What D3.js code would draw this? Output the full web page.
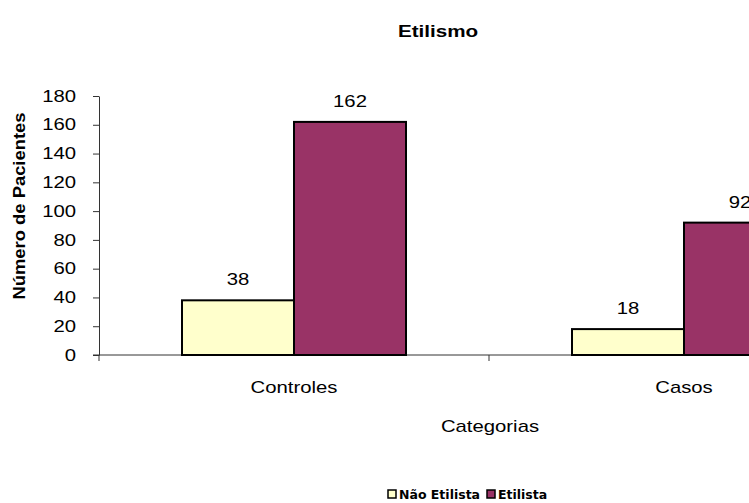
<!DOCTYPE html>
<html>
<head>
<meta charset="utf-8">
<script src="https://cdn.jsdelivr.net/npm/d3@7"></script>
<style>
body { margin:0; background:#fff; overflow:hidden; }
svg { display:block; font-family:"Liberation Sans", Arial, sans-serif; }
</style>
</head>
<body>
<svg id="graph"></svg>
<script>
var categories = ["Controles","Casos"]
var seriesNames = ["Não Etilista","Etilista"]
var naoEtilista = [38,18]
var etilista = [162,92]
var yTicks = [0,20,40,60,80,100,120,140,160,180]

var colors = {"Não Etilista":"#FFFFCC","Etilista":"#993366"}
var stretch = 1.27

var screen = {width:749,height:503}
var margins = {left:99,top:96}
var graph = {width:780,height:259}

var svg = d3.select("#graph")
    .attr("width",screen.width)
    .attr("height",screen.height)

var rows = categories.map(function(c,i)
{
    return {category:c,values:[
        {name:seriesNames[0],value:naoEtilista[i]},
        {name:seriesNames[1],value:etilista[i]}
    ]}
})

var xScale = d3.scaleBand()
    .domain(categories)
    .range([margins.left,margins.left+graph.width])

var inner = d3.scaleBand()
    .domain(seriesNames)
    .range([83,307])

var yScale = d3.scaleLinear()
    .domain([0,180])
    .range([margins.top+graph.height,margins.top])

var baseY = yScale(0)

//y axis
var yAxis = d3.axisLeft(yScale)
    .tickValues(yTicks)
    .tickSize(6)
    .tickSizeOuter(0)

var yg = svg.append("g")
    .attr("transform","translate("+margins.left+",0)")
    .call(yAxis)
yg.select(".domain").attr("stroke","#333")
yg.selectAll(".tick line").attr("stroke","#333")
yg.selectAll(".tick text")
    .attr("font-size",16)
    .attr("font-family","Liberation Sans, Arial, sans-serif")
    .attr("fill","#000")
    .attr("x",-23/stretch)
    .attr("transform","scale("+stretch+",1)")

//x axis line, boundary ticks
var bounds = categories.map(function(c){return xScale(c)})
bounds.push(margins.left+graph.width)

svg.append("line")
    .attr("x1",margins.left-6)
    .attr("x2",margins.left+graph.width)
    .attr("y1",baseY)
    .attr("y2",baseY)
    .attr("stroke","#333")

svg.selectAll(".xtick")
    .data(bounds)
    .enter()
    .append("line")
    .attr("class","xtick")
    .attr("x1",function(d){return d})
    .attr("x2",function(d){return d})
    .attr("y1",baseY)
    .attr("y2",baseY+6)
    .attr("stroke","#333")

var xAxis = d3.axisBottom(xScale).tickSize(0).tickPadding(27)
var xg = svg.append("g")
    .attr("transform","translate(0,"+baseY+")")
    .call(xAxis)
xg.select(".domain").remove()
xg.selectAll(".tick text")
    .attr("font-size",16)
    .attr("font-family","Liberation Sans, Arial, sans-serif")
    .attr("fill","#000")
    .attr("transform","scale("+stretch+",1)")

//bars
var groups = svg.selectAll(".group")
    .data(rows)
    .enter()
    .append("g")
    .attr("class","group")
    .attr("transform",function(d){return "translate("+xScale(d.category)+",0)"})

groups.selectAll("rect")
    .data(function(d){return d.values})
    .enter()
    .append("rect")
    .attr("x",function(d){return inner(d.name)})
    .attr("y",function(d){return yScale(d.value)})
    .attr("width",inner.bandwidth())
    .attr("height",function(d){return baseY-yScale(d.value)})
    .attr("fill",function(d){return colors[d.name]})
    .attr("stroke","#000")
    .attr("stroke-width",2)

groups.selectAll(".val")
    .data(function(d){return d.values})
    .enter()
    .append("text")
    .attr("class","val")
    .text(function(d){return d.value})
    .attr("text-anchor","middle")
    .attr("font-size",16)
    .attr("fill","#000")
    .attr("transform",function(d)
    {
        var x = inner(d.name)+inner.bandwidth()/2
        var y = yScale(d.value)-15
        return "translate("+x+","+y+") scale("+stretch+",1)"
    })

//labels
var labels = svg.append("g")

labels.append("text")
    .text("Etilismo")
    .attr("text-anchor","middle")
    .attr("font-size",16)
    .attr("font-weight","bold")
    .attr("transform","translate(438,37) scale(1.29,1)")

labels.append("text")
    .text("Categorias")
    .attr("text-anchor","middle")
    .attr("font-size",16)
    .attr("transform","translate(490,432) scale("+stretch+",1)")

labels.append("text")
    .text("Número de Pacientes")
    .attr("text-anchor","middle")
    .attr("font-size",16)
    .attr("font-weight","bold")
    .attr("transform","translate(25,206) rotate(-90) scale(1.15,1)")

//legend
var legendX = [388,487]
var legend = svg.append("g")
    .attr("font-family","DejaVu Sans, Verdana, sans-serif")

var entries = legend.selectAll("g")
    .data(seriesNames)
    .enter()
    .append("g")
    .attr("transform",function(d,i){return "translate("+legendX[i]+",490)"})

entries.append("rect")
    .attr("width",8)
    .attr("height",8)
    .attr("fill",function(d){return colors[d]})
    .attr("stroke","#000")
    .attr("stroke-width",1.5)

entries.append("text")
    .text(function(d){return d})
    .attr("x",11)
    .attr("y",9)
    .attr("font-size",12.5)
    .attr("font-weight","bold")
</script>
</body>
</html>
